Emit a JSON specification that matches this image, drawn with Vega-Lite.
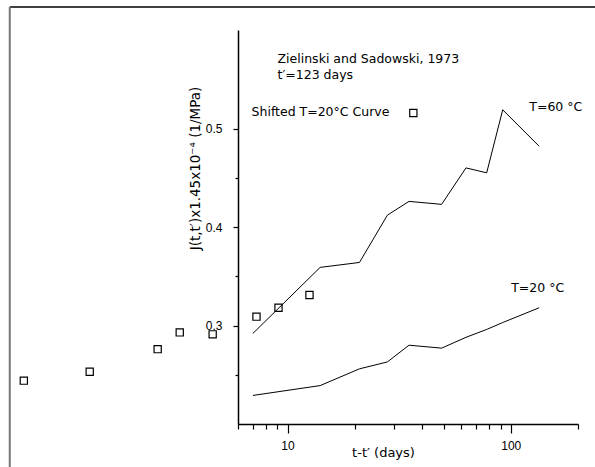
{
  "$schema": "https://vega.github.io/schema/vega-lite/v6.json",
  "width": 340,
  "height": 394,
  "autosize": "none",
  "padding": {"left": 238, "top": 30, "right": 17, "bottom": 43},
  "background": "white",
  "config": {"view": {"stroke": null}, "font": "DejaVu Sans"},
  "datasets": {
    "t60": [
      {"t": 7, "J": 0.292}, {"t": 14, "J": 0.359}, {"t": 21, "J": 0.364}, {"t": 28, "J": 0.412},
      {"t": 35, "J": 0.426}, {"t": 49, "J": 0.423}, {"t": 63, "J": 0.46}, {"t": 78, "J": 0.455},
      {"t": 92, "J": 0.519}, {"t": 134, "J": 0.482}
    ],
    "t20": [
      {"t": 7, "J": 0.229}, {"t": 14, "J": 0.239}, {"t": 21, "J": 0.256}, {"t": 28, "J": 0.263},
      {"t": 35, "J": 0.28}, {"t": 49, "J": 0.277}, {"t": 63, "J": 0.288}, {"t": 78, "J": 0.296},
      {"t": 92, "J": 0.303}, {"t": 134, "J": 0.318}
    ],
    "shifted": [
      {"t": 0.659, "J": 0.244}, {"t": 1.3, "J": 0.253}, {"t": 2.62, "J": 0.276}, {"t": 3.29, "J": 0.293},
      {"t": 4.62, "J": 0.291}, {"t": 7.26, "J": 0.309}, {"t": 9.11, "J": 0.318}, {"t": 12.54, "J": 0.331}
    ],
    "legendmark": [{"t": 36.6, "J": 0.5157}],
    "notes": [
      {"t": 9.02, "J": 0.5706, "label": "Zielinski and Sadowski, 1973"},
      {"t": 9.02, "J": 0.5543, "label": "t′=123 days"},
      {"t": 6.9, "J": 0.5168, "label": "Shifted T=20°C Curve"},
      {"t": 121, "J": 0.5218, "label": "T=60 °C"},
      {"t": 100.4, "J": 0.338, "label": "T=20 °C"}
    ],
    "frameTop": [{"t": 0.57, "t2": 260, "J": 0.6233}],
    "frameLeft": [{"t": 0.57, "J": 0.6233, "J2": 0.14}]
  },
  "encoding": {
    "x": {
      "field": "t", "type": "quantitative",
      "scale": {"type": "log", "domain": [6, 200], "nice": false},
      "axis": {
        "values": [6, 7, 8, 9, 10, 20, 30, 40, 50, 60, 70, 80, 90, 100, 200],
        "labelExpr": "datum.value == 10 || datum.value == 100 ? datum.value : ''",
        "tickSize": {"condition": {"test": "datum.value == 10 || datum.value == 100", "value": 9}, "value": 5},
        "grid": false,
        "domainColor": "black", "domainWidth": 1.5,
        "tickColor": "black", "tickWidth": 1.2,
        "labelFont": "Liberation Sans", "labelFontSize": 12, "labelColor": "black",
        "labelPadding": 7, "labelFlush": false, "labelOverlap": false,
        "title": "t-t′ (days)", "titleFont": "DejaVu Sans", "titleFontSize": 13,
        "titleFontWeight": "normal", "titleColor": "black",
        "titleX": 145, "titleY": 28, "titleBaseline": "middle", "titleAlign": "center"
      }
    },
    "y": {
      "field": "J", "type": "quantitative",
      "scale": {"domain": [0.2, 0.6], "nice": false, "zero": false},
      "axis": {
        "values": [0.25, 0.3, 0.35, 0.4, 0.45, 0.5],
        "labelExpr": "abs(datum.value * 10 - round(datum.value * 10)) < 0.01 ? format(datum.value, '.1f') : ''",
        "tickSize": {"condition": {"test": "abs(datum.value * 10 - round(datum.value * 10)) < 0.01", "value": 5}, "value": 3},
        "grid": false,
        "domainColor": "black", "domainWidth": 1.5,
        "tickColor": "black", "tickWidth": 1.2,
        "labelFont": "Liberation Sans", "labelFontSize": 12, "labelColor": "black",
        "labelPadding": 11, "labelBaseline": "middle", "labelFlush": false, "labelOverlap": false,
        "title": "J(t,t′)x1.45x10⁻⁴ (1/MPa)", "titleFont": "DejaVu Sans", "titleFontSize": 13.5,
        "titleFontWeight": "normal", "titleColor": "black",
        "titleX": -43, "titleY": 138, "titleBaseline": "middle", "titleAlign": "center", "titleAngle": -90
      }
    }
  },
  "layer": [
    {
      "data": {"name": "t60"},
      "mark": {"type": "line", "color": "black", "strokeWidth": 1, "clip": false}
    },
    {
      "data": {"name": "t20"},
      "mark": {"type": "line", "color": "black", "strokeWidth": 1, "clip": false}
    },
    {
      "data": {"name": "shifted"},
      "mark": {"type": "point", "shape": "square", "size": 52, "filled": false, "stroke": "black", "strokeWidth": 1.2, "opacity": 1, "clip": false}
    },
    {
      "data": {"name": "legendmark"},
      "mark": {"type": "point", "shape": "square", "size": 52, "filled": false, "stroke": "black", "strokeWidth": 1.2, "opacity": 1, "clip": false}
    },
    {
      "data": {"name": "notes"},
      "mark": {"type": "text", "align": "left", "baseline": "middle", "font": "DejaVu Sans", "fontSize": 12.5, "color": "black", "clip": false},
      "encoding": {"text": {"field": "label"}}
    },
    {
      "data": {"name": "frameTop"},
      "mark": {"type": "rule", "color": "black", "strokeWidth": 1.5, "clip": false},
      "encoding": {"x2": {"field": "t2"}}
    },
    {
      "data": {"name": "frameLeft"},
      "mark": {"type": "rule", "color": "#777777", "strokeWidth": 2, "clip": false},
      "encoding": {"y2": {"field": "J2"}}
    }
  ]
}
